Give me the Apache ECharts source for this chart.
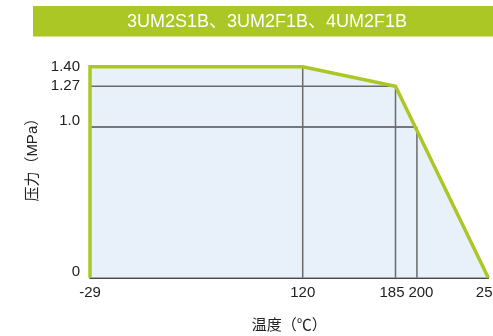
<!DOCTYPE html>
<html>
<head>
<meta charset="utf-8">
<script src="https://cdn.jsdelivr.net/npm/echarts@6/dist/echarts.min.js"></script>
<style>html,body{margin:0;padding:0;background:#fff}#c{width:493px;height:336px}</style>
</head>
<body>
<div id="c"></div>
<script>
const titleText = '3UM2S1B、3UM2F1B、4UM2F1B';
const xName = '温度（℃）';
const yName = '压力（MPa）';
// envelope of allowed pressure vs temperature
const envelopeT = [-29, -29, 120, 185, 250];
const envelopeP = [0, 1.40, 1.40, 1.27, 0];
// tick labels
const xTicks = [-29, 120, 185, 200, 250];
const yTicks = [0, 1.0, 1.27, 1.40];
const yTickLabels = ['0', '1.0', '1.27', '1.40'];
// reference lines
const hLineP = [1.27, 1.0];
const hLineFrom = [-29, -29];
const hLineTo = [185, 200];
const vLineT = [120, 185, 200];
const vLineTop = [1.40, 1.27, 1.0];

const GREEN = '#abc725';
const FONT = '"Liberation Sans", "Noto Sans CJK SC", sans-serif';

const chart = echarts.init(document.getElementById('c'), null, {renderer: 'canvas'});

const envelope = envelopeT.map((t, i) => [t, envelopeP[i]]);
const refSeries = [];
hLineP.forEach((p, i) => {
  refSeries.push({
    type: 'line', silent: true, symbol: 'none', z: 3,
    data: [[hLineFrom[i], p], [hLineTo[i], p]],
    lineStyle: {color: p === 1.0 ? '#000' : '#6a6a6a', width: p === 1.0 ? 1.2 : 1.5}
  });
});
vLineT.forEach((t, i) => {
  refSeries.push({
    type: 'line', silent: true, symbol: 'none', z: 3,
    data: [[t, 0], [t, vLineTop[i]]],
    lineStyle: {color: '#6a6a6a', width: 1.5}
  });
});

const yLabelShift = {'0': 'u', '1.0': 'u'};
const xLabelShift = {'185': 'l', '200': 'r'};

chart.setOption({
  animation: false,
  textStyle: {fontFamily: FONT},
  graphic: [
    {type: 'rect', shape: {x: 33, y: 6, width: 460, height: 30.5}, style: {fill: GREEN}, z: 0},
    {type: 'text', x: 267, y: 22, style: {text: titleText, fill: '#fff', font: '18px ' + FONT, align: 'center', verticalAlign: 'middle'}, z: 1}
  ],
  grid: {left: 90, right: 4.7, top: 66.7, bottom: 58.3, containLabel: false, outerBoundsMode: 'none'},
  xAxis: {
    type: 'value', min: -29, max: 250,
    name: xName, nameLocation: 'middle', nameGap: 41,
    nameTextStyle: {fontSize: 15, color: '#222', fontFamily: FONT},
    axisLine: {show: true, lineStyle: {color: '#111', width: 1.5}},
    axisTick: {show: false},
    splitLine: {show: false},
    axisLabel: {customValues: xTicks, fontSize: 15, color: '#222', margin: 8, fontFamily: FONT,
      formatter: v => {
        const s = String(v);
        return xLabelShift[s] ? '{' + xLabelShift[s] + '|' + s + '}' : s;
      },
      rich: {
        l: {fontSize: 15, color: '#222', fontFamily: FONT, padding: [0, 7, 0, 0]},
        r: {fontSize: 15, color: '#222', fontFamily: FONT, padding: [0, 0, 0, 8]}
      }
    }
  },
  yAxis: {
    type: 'value', min: 0, max: 1.40,
    name: yName, nameLocation: 'middle', nameGap: 50,
    nameRotate: 90,
    nameTextStyle: {fontSize: 15, color: '#222', fontFamily: FONT, padding: [0, 0, 0, 32]},
    axisLine: {show: false},
    axisTick: {show: false},
    splitLine: {show: false},
    axisLabel: {customValues: yTicks, fontSize: 15, color: '#222', margin: 10, fontFamily: FONT,
      formatter: v => {
        const i = yTicks.indexOf(v);
        const s = i >= 0 ? yTickLabels[i] : String(v);
        return yLabelShift[s] ? '{' + yLabelShift[s] + '|' + s + '}' : s;
      },
      rich: {u: {fontSize: 15, color: '#222', fontFamily: FONT, padding: [0, 0, 12, 0]}}
    }
  },
  series: [
    {type: 'line', silent: true, symbol: 'none', z: 1, data: envelope,
      lineStyle: {width: 0, opacity: 0}, areaStyle: {color: '#e8f0f9', opacity: 1}},
    ...refSeries,
    {type: 'line', silent: true, symbol: 'none', z: 5, data: envelope,
      lineStyle: {color: GREEN, width: 3.5, join: 'miter'}}
  ]
});
</script>
</body>
</html>
